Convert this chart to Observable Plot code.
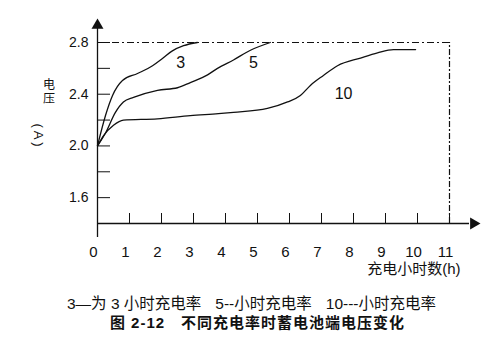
<!DOCTYPE html>
<html><head><meta charset="utf-8">
<script src="https://cdn.jsdelivr.net/npm/d3@7"></script>
<script src="https://cdn.jsdelivr.net/npm/@observablehq/plot@0.6"></script>
<style>
body{margin:0;background:#fff;font-family:"Liberation Sans","Noto Sans CJK SC",sans-serif;color:#111;}
#chart svg{display:block}
.cap{text-align:center;font-size:15.5px;line-height:19px;margin-top:9px;width:503px}
.cap span{margin:0 7px}
.title{font-weight:bold;letter-spacing:1px;padding-left:12px;font-size:15px}
</style></head><body>
<div id="chart"></div>
<div class="cap">
  <div><span>3—为 3 小时充电率</span><span>5--小时充电率</span><span>10---小时充电率</span></div>
  <div class="title">图 2-12　不同充电率时蓄电池端电压变化</div>
</div>
<script>
// tick values
const xTicks = [1, 2, 3, 4, 5, 6, 7, 8, 9, 10, 11];
const xLabels = [0, 1, 2, 3, 4, 5, 6, 7, 8, 9, 10, 11];
const yTicks = [1.6, 1.8, 2.0, 2.2, 2.4, 2.6, 2.8];
const yLabels = [1.6, 2.0, 2.4, 2.8];
const yMin = 1.4;

// series (charge hours, voltage)
const hours3 = [0, 0.25, 0.47, 0.78, 1.25, 1.72, 2.03, 2.34, 2.69, 3.12];
const volts3 = [2.0, 2.235, 2.39, 2.506, 2.56, 2.62, 2.676, 2.735, 2.775, 2.8];
const hours5 = [0, 0.25, 0.56, 0.81, 1.125, 1.875, 2.5, 2.9, 3.44, 3.75, 4.25, 4.78, 5.4];
const volts5 = [2.0, 2.10, 2.26, 2.34, 2.375, 2.43, 2.45, 2.49, 2.55, 2.6, 2.665, 2.74, 2.8];
const hours10 = [0, 0.19, 0.5, 0.81, 1.875, 2.9, 3.78, 4.25, 5.31, 5.94, 6.34, 6.66, 7.06, 7.5, 8.22, 8.75, 9.25, 9.94];
const volts10 = [2.0, 2.08, 2.16, 2.20, 2.21, 2.235, 2.25, 2.26, 2.29, 2.34, 2.39, 2.47, 2.545, 2.62, 2.68, 2.72, 2.745, 2.745];

// curve labels
const curveNames = ["3", "5", "10"];
const curveLabelHours = [2.6, 4.875, 7.69];
const curveLabelVolts = [2.645, 2.645, 2.405];

const yTitleTop = ["电", "压"];
const yTitleUnit = "( A )";
const xTitle = "充电小时数(h)";

const series = [
  ...hours3.map((h, i) => ({rate: "3", h, v: volts3[i]})),
  ...hours5.map((h, i) => ({rate: "5", h, v: volts5[i]})),
  ...hours10.map((h, i) => ({rate: "10", h, v: volts10[i]}))
];
const labels = curveNames.map((t, i) => ({t, h: curveLabelHours[i], v: curveLabelVolts[i]}));
const xMax = xLabels[xLabels.length - 1];
const yMax = yLabels[yLabels.length - 1];
const ink = "#111";

const chart = Plot.plot({
  width: 503,
  height: 285,
  marginLeft: 97,
  marginRight: 54,
  marginTop: 42,
  marginBottom: 62,
  style: {fontFamily: "Liberation Sans, Noto Sans CJK SC, sans-serif", fontSize: "14px", color: ink, background: "#fff"},
  x: {domain: [0, xMax], label: null},
  y: {domain: [yMin, yMax], label: null},
  marks: [
    Plot.ruleY([yMax], {x1: 0, x2: xMax, stroke: ink, strokeWidth: 1.2, strokeDasharray: "7,3,2,3"}),
    Plot.ruleX([xMax], {y1: yMin, y2: yMax, stroke: ink, strokeWidth: 1.2, strokeDasharray: "6,2,2,2"}),
    // axis lines
    Plot.ruleX([0], {insetTop: -14, insetBottom: -14, stroke: ink, strokeWidth: 1.3}),
    Plot.ruleY([yMin], {insetRight: -20, stroke: ink, strokeWidth: 1.3}),
    // arrow heads
    Plot.dot([{h: 0, v: yMax}], {x: "h", y: "v", dy: -17.1, symbol: "triangle", r: 4.44, fill: ink, stroke: "none"}),
    Plot.dot([{h: xMax, v: yMin}], {x: "h", y: "v", dx: 24.1, symbol: "triangle", rotate: 90, r: 4.44, fill: ink, stroke: "none"}),
    Plot.axisY({ticks: yTicks, tickSize: -13, tickFormat: () => "", label: null, stroke: ink}),
    Plot.axisY({ticks: yLabels, tickSize: 0, tickPadding: 9, tickFormat: d3.format(".1f"), fontSize: 14, label: null}),
    Plot.axisX({ticks: xTicks, tickSize: -10, tickFormat: () => "", label: null, stroke: ink}),
    Plot.axisX({ticks: xLabels, tickSize: 0, tickPadding: 23, dx: -4, fontSize: 15, label: null}),
    Plot.line(series, {x: "h", y: "v", z: "rate", curve: "monotone-x", stroke: ink, strokeWidth: 1.3}),
    Plot.text(labels, {x: "h", y: "v", text: "t", fontSize: 16}),
    Plot.text([yTitleTop[0]], {frameAnchor: "top-left", dx: -54.5, dy: 38, fontSize: 12}),
    Plot.text([yTitleTop[1]], {frameAnchor: "top-left", dx: -54.5, dy: 52, fontSize: 12}),
    Plot.text([yTitleUnit], {frameAnchor: "top-left", dx: -54.5, dy: 81, rotate: 90, fontSize: 13}),
    Plot.text([xTitle], {frameAnchor: "bottom-right", dx: 11, dy: 50, textAnchor: "end", fontSize: 15})
  ]
});
document.getElementById("chart").appendChild(chart);
</script>
</body></html>
